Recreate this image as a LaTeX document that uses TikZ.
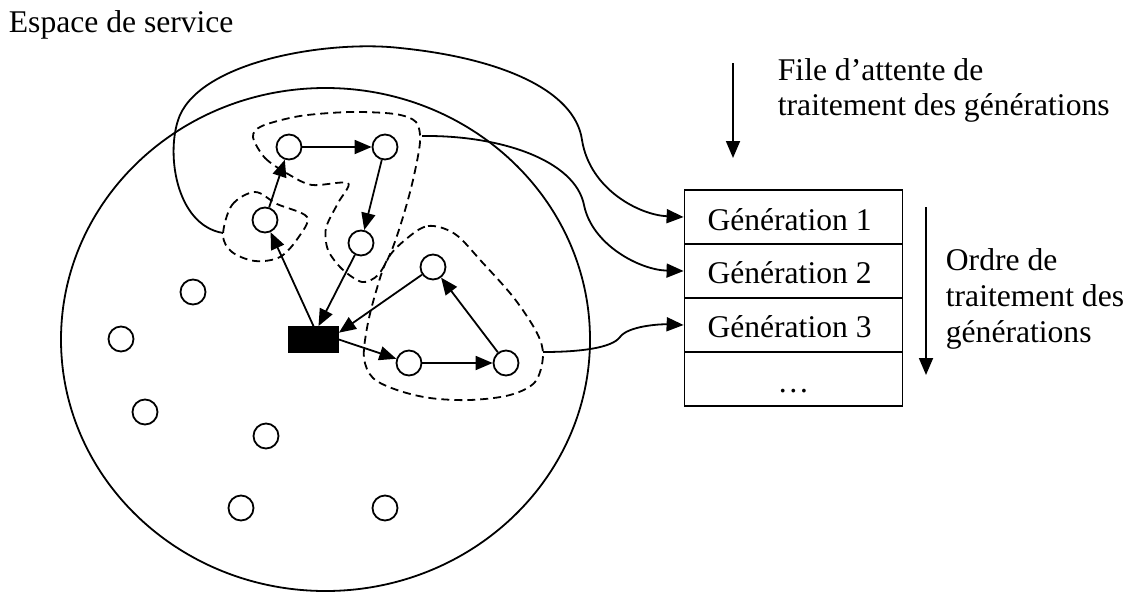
\documentclass[tikz,border=0pt]{standalone}
\usepackage{fontspec}
\setmainfont{Liberation Serif}
\usetikzlibrary{arrows.meta,calc}
\begin{document}
\begin{tikzpicture}[x=1pt,y=-1pt,
  line width=1.8pt,
  arr/.style={-{Triangle[length=17pt 0 0,width=14pt 0 0]}},
  vtx/.style={circle,draw,fill=white,minimum size=25pt,inner sep=0pt},
  blob/.style={dash pattern=on 8pt off 5pt},
  rowbox/.style={draw,minimum width=218pt,minimum height=54pt,inner sep=0pt},
  lbl/.style={font=\fontsize{31.6}{36}\selectfont,inner sep=0pt,anchor=base west},
]
\useasboundingbox (0,0) rectangle (1131,592);

% service space
\draw (325.5,339.5) ellipse [x radius=264.5, y radius=251.5];

% generation groups (dashed)
\draw[blob] plot[smooth cycle, tension=0.55] coordinates {
  (223,235) (232,205) (255,192) (277,204) (307,217) (298,238) (280,257) (255,261) (232,252)};
\draw[blob] plot[smooth cycle, tension=0.5] coordinates {
  (253,137) (265,158) (288,174) (312,185) (348,183) (338,203) (326,228) (328,250)
  (342,269) (362,282) (378,275) (391,252) (403,217) (413,180) (420,142) (416,122)
  (395,114) (350,112) (300,116) (262,126)};
\draw[blob] plot[smooth cycle, tension=0.55] coordinates {
  (405,240) (428,226) (455,234) (482,262) (514,298) (537,333) (543,356) (535,382)
  (510,395) (470,400) (430,398) (397,390) (373,378) (364,358) (367,328) (375,295) (387,260)};

% vertices
\node[vtx] (A) at (289,147) {};
\node[vtx] (B) at (385,147) {};
\node[vtx] (C) at (265,220) {};
\node[vtx] (D) at (361,243) {};
\node[vtx] (E) at (433,267) {};
\node[vtx] (F) at (409,363) {};
\node[vtx] (G) at (506,363) {};
\node[vtx] (n1) at (193,292) {};
\node[vtx] (n2) at (121,339) {};
\node[vtx] (n3) at (145,412) {};
\node[vtx] (n4) at (266,436) {};
\node[vtx] (n5) at (241,508) {};
\node[vtx] (n6) at (385,508) {};
\node[draw,fill=black,minimum width=49pt,minimum height=25pt,inner sep=0pt] (R) at (313.5,339.5) {};

% edges
\draw[arr] (R.north) -- (C);
\draw[arr] (C) -- (A);
\draw[arr] (A) -- (B);
\draw[arr] (B) -- (D);
\draw[arr] (D) -- ($(R.north)+(5,0)$);
\draw[arr] (E) -- (R.15);
\draw[arr] (R.east) -- (F);
\draw[arr] (F) -- (G);
\draw[arr] (G) -- (E);

% queue
\node[rowbox] (G1) at (793.5,217) {};
\node[rowbox] (G2) at (793.5,271) {};
\node[rowbox] (G3) at (793.5,325) {};
\node[rowbox] (G4) at (793.5,379) {};
\node[lbl] at ([xshift=23pt,yshift=-13pt]G1.west) {Génération 1};
\node[lbl] at ([xshift=23pt,yshift=-12pt]G2.west) {Génération 2};
\node[lbl] at ([xshift=23pt,yshift=-12pt]G3.west) {Génération 3};
\node[lbl,anchor=base] at ([yshift=-13pt]G4.center) {…};

% connectors from groups to queue
\coordinate (L1) at (223,233);
\coordinate (L2) at (422,136);
\coordinate (L3) at (543,352);
\draw[arr] (L1) .. controls (175,225) and (165,150) .. (180,115)
  .. controls (205,60) and (330,40) .. (400,48)
  .. controls (500,58) and (575,90) .. (582,140)
  .. controls (590,190) and (640,215) .. (G1.west);
\draw[arr] (L2) .. controls (500,135) and (575,160) .. (584,205)
  .. controls (592,245) and (640,270) .. (G2.west);
\draw[arr] (L3) .. controls (580,352) and (612,348) .. (620,337)
  .. controls (628,326) and (660,324) .. (G3.west);

% side arrows
\coordinate (q1) at (733,63);
\coordinate (q2) at (733,158);
\coordinate (o1) at (926,207);
\coordinate (o2) at (926,375);
\draw[arr] (q1) -- (q2);
\draw[arr] (o1) -- (o2);

% texts
\node[lbl] (t0) at (8,32) {Espace de service};
\node[lbl] (t1) at (777,80) {File d’attente de};
\node[lbl] (t2) at (777,115) {traitement des générations};
\node[lbl] (t3) at (945,270) {Ordre de};
\node[lbl] (t4) at (945,306) {traitement des};
\node[lbl] (t5) at (945,342) {générations};
\end{tikzpicture}
\end{document}
